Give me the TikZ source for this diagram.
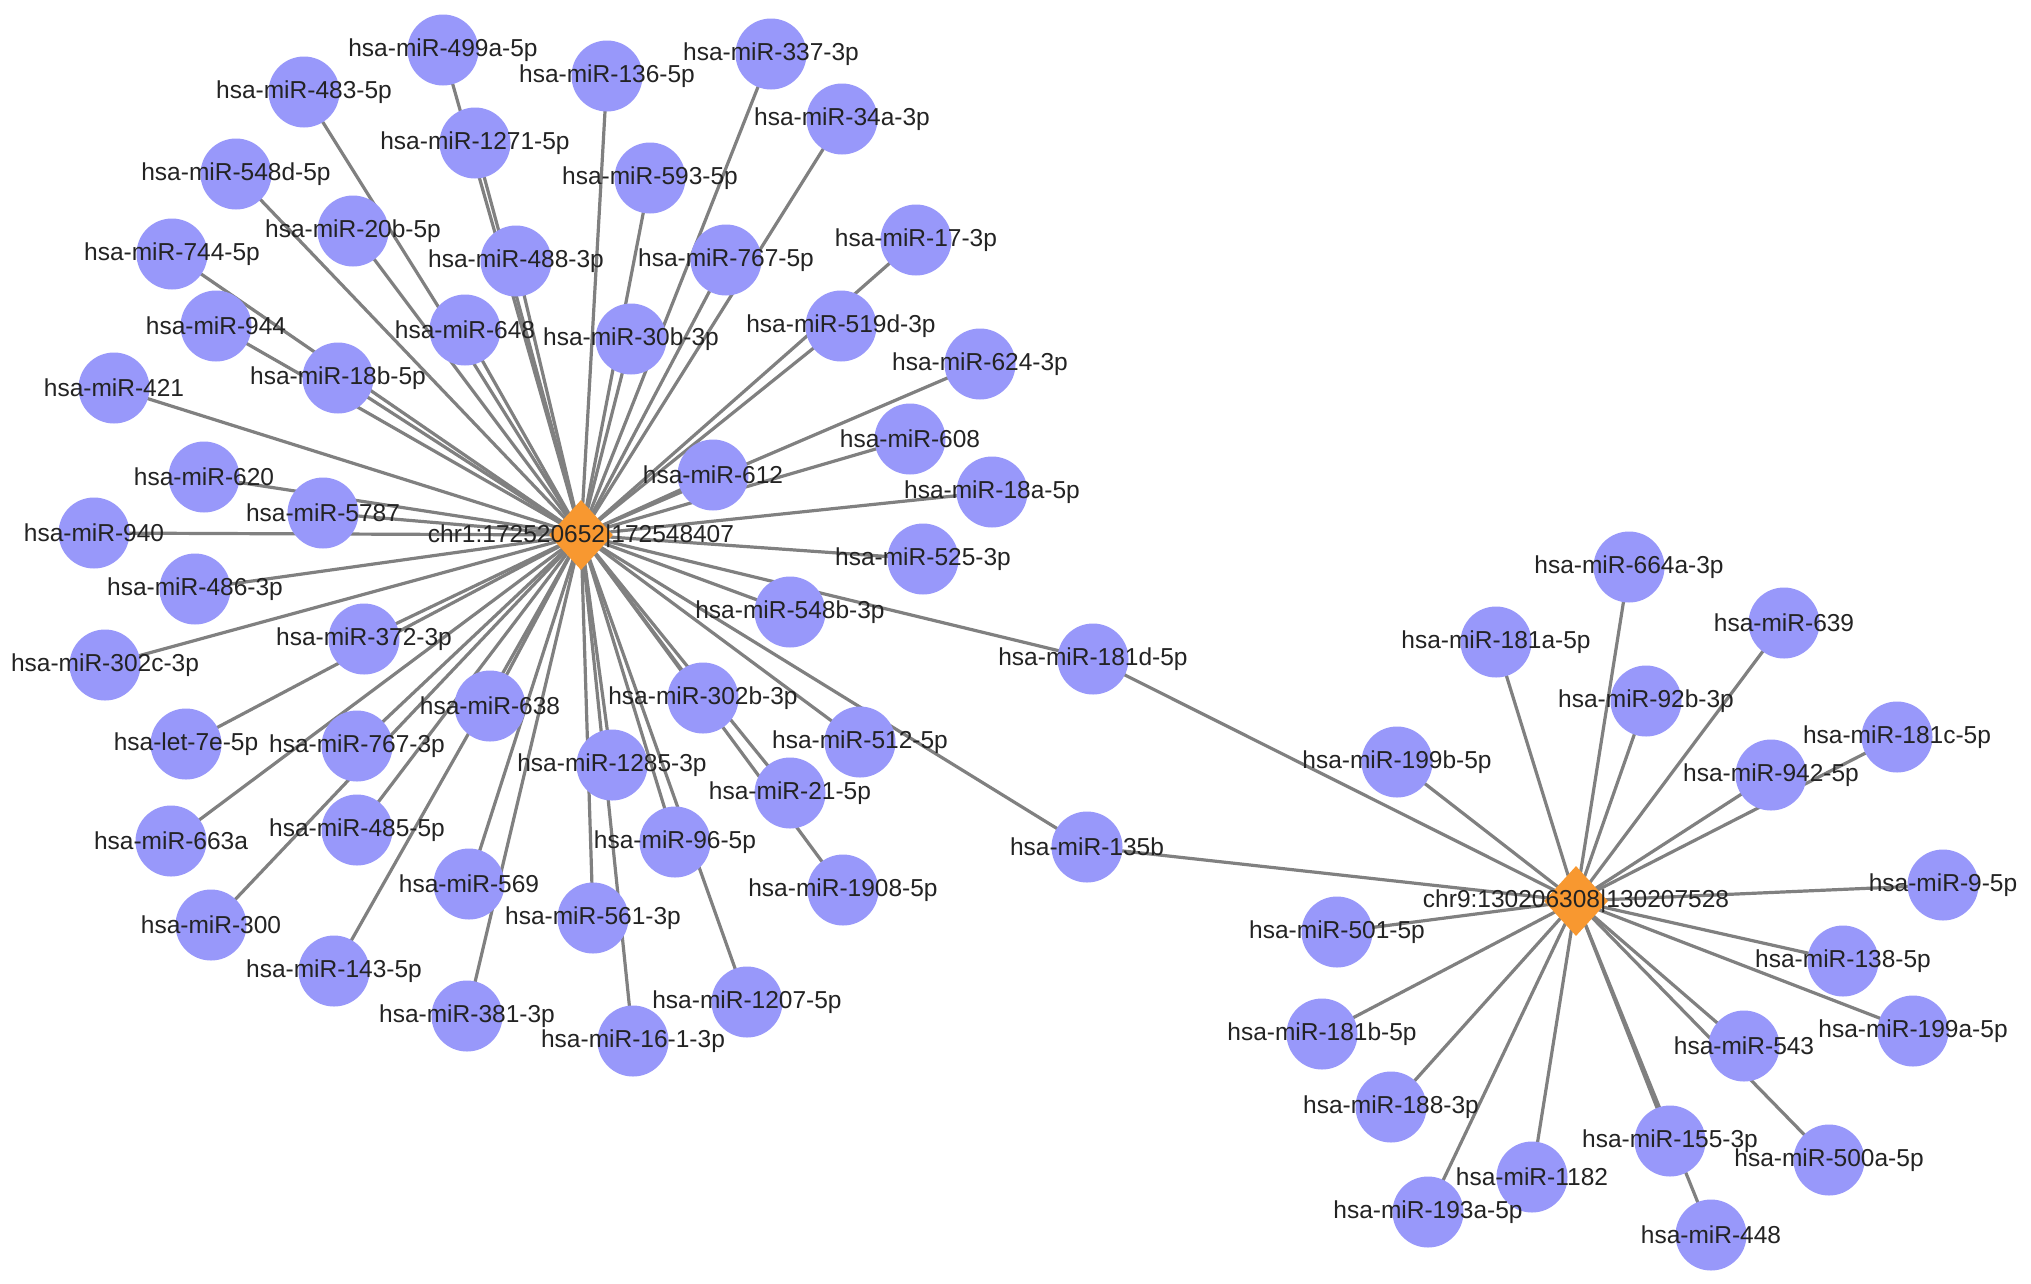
\documentclass[tikz,border=0pt]{standalone}
\usepackage{fontspec}
\setmainfont{Liberation Sans}
\usetikzlibrary{shapes.geometric}
\pgfdeclarelayer{bglayer}
\pgfdeclarelayer{edgelayer}
\pgfdeclarelayer{textlayer}
\pgfsetlayers{bglayer,edgelayer,main,textlayer}
\definecolor{mirfill}{RGB}{152,152,250}
\definecolor{hubfill}{RGB}{248,152,48}
\definecolor{edgecol}{RGB}{128,128,128}
\definecolor{txtcol}{RGB}{35,35,35}
\tikzset{
  mir/.style={circle, fill=mirfill, draw=none, minimum size=71pt, inner sep=0pt},
  hub/.style={diamond, fill=hubfill, draw=none, minimum width=64pt, minimum height=70pt, inner sep=0pt},
  lbl/.style={text=txtcol, inner sep=0pt, font=\fontsize{24.5}{29}\selectfont},
  linkline/.style={draw=edgecol, line width=3.2pt}
}
\def\leftlist{a499/443/50/hsa-miR-499a-5p,
a483/304/92/hsa-miR-483-5p,
a136/607/76/hsa-miR-136-5p,
a337/771/54/hsa-miR-337-3p,
a34a/842/119/hsa-miR-34a-3p,
a1271/475/143/hsa-miR-1271-5p,
a548d/236/174/hsa-miR-548d-5p,
a593/650/178/hsa-miR-593-5p,
a20b/353/231/hsa-miR-20b-5p,
a744/172/254/hsa-miR-744-5p,
a488/516/261/hsa-miR-488-3p,
a767f/726/260/hsa-miR-767-5p,
a17/916/240/hsa-miR-17-3p,
a944/216/326/hsa-miR-944,
a648/465/330/hsa-miR-648,
a30b/631/339/hsa-miR-30b-3p,
a519d/841/326/hsa-miR-519d-3p,
a624/980/364/hsa-miR-624-3p,
a421/114/388/hsa-miR-421,
a18b/338/378/hsa-miR-18b-5p,
a608/910/439/hsa-miR-608,
a612/713/475/hsa-miR-612,
a620/204/477/hsa-miR-620,
a18a/992/492/hsa-miR-18a-5p,
a5787/323/513/hsa-miR-5787,
a940/94/533/hsa-miR-940,
a525/923/559/hsa-miR-525-3p,
a486/195/589/hsa-miR-486-3p,
a548b/790/612/hsa-miR-548b-3p,
a302c/105/665/hsa-miR-302c-3p,
a372/364/639/hsa-miR-372-3p,
a638/490/706/hsa-miR-638,
a302b/703/698/hsa-miR-302b-3p,
a512/860/742/hsa-miR-512-5p,
alet/186/744/hsa-let-7e-5p,
a767t/357/746/hsa-miR-767-3p,
a1285/612/765/hsa-miR-1285-3p,
a21/790/793/hsa-miR-21-5p,
a663/171/841/hsa-miR-663a,
a485/357/830/hsa-miR-485-5p,
a96/675/842/hsa-miR-96-5p,
a569/469/884/hsa-miR-569,
a1908/843/890/hsa-miR-1908-5p,
a300/211/925/hsa-miR-300,
a561/593/918/hsa-miR-561-3p,
a143/334/971/hsa-miR-143-5p,
a1207/747/1002/hsa-miR-1207-5p,
a381/467/1016/hsa-miR-381-3p,
a16/633/1041/hsa-miR-16-1-3p}
\def\sharedlist{s181d/1093/659/hsa-miR-181d-5p,
s135b/1087/847/hsa-miR-135b}
\def\rightlist{b664/1629/567/hsa-miR-664a-3p,
b181a/1496/642/hsa-miR-181a-5p,
b639/1784/623/hsa-miR-639,
b92b/1646/701/hsa-miR-92b-3p,
b181c/1897/737/hsa-miR-181c-5p,
b942/1771/775/hsa-miR-942-5p,
b199b/1397/762/hsa-miR-199b-5p,
b9/1943/885/hsa-miR-9-5p,
b501/1337/932/hsa-miR-501-5p,
b138/1843/961/hsa-miR-138-5p,
b181b/1322/1034/hsa-miR-181b-5p,
b199a/1913/1031/hsa-miR-199a-5p,
b543/1744/1046/hsa-miR-543,
b188/1391/1107/hsa-miR-188-3p,
b155/1670/1141/hsa-miR-155-3p,
b500a/1829/1160/hsa-miR-500a-5p,
b1182/1532/1177/hsa-miR-1182,
b193a/1428/1212/hsa-miR-193a-5p,
b448/1711/1235/hsa-miR-448}
\begin{document}
\begin{tikzpicture}[x=1pt, y=-1pt]
\begin{pgfonlayer}{bglayer}
\fill[white] (0,0) rectangle (2031,1283);
\end{pgfonlayer}
\useasboundingbox (0,0) rectangle (2031,1283);
% hubs
\node[hub] (hub1) at (581,535) {};
\node[hub] (hub2) at (1576,901) {};
\begin{pgfonlayer}{textlayer}
\node[lbl] (hub1lbl) at (581,536) {chr1:172520652|172548407};
\node[lbl] (hub2lbl) at (1576,901) {chr9:130206308|130207528};
\end{pgfonlayer}
% left cluster
\foreach \n/\x/\y/\t in \leftlist {
  \node[mir] (\n) at (\x,\y) {};
  \begin{pgfonlayer}{edgelayer}
    \draw[linkline] (hub1.center) -- (\n.center);
  \end{pgfonlayer}
  \begin{pgfonlayer}{textlayer}
    \node[lbl] (\n lbl) at (\x,\y) {\t};
  \end{pgfonlayer}
}
% shared
\foreach \n/\x/\y/\t in \sharedlist {
  \node[mir] (\n) at (\x,\y) {};
  \begin{pgfonlayer}{edgelayer}
    \draw[linkline] (hub1.center) -- (\n.center);
    \draw[linkline] (hub2.center) -- (\n.center);
  \end{pgfonlayer}
  \begin{pgfonlayer}{textlayer}
    \node[lbl] (\n lbl) at (\x,\y) {\t};
  \end{pgfonlayer}
}
% right cluster
\foreach \n/\x/\y/\t in \rightlist {
  \node[mir] (\n) at (\x,\y) {};
  \begin{pgfonlayer}{edgelayer}
    \draw[linkline] (hub2.center) -- (\n.center);
  \end{pgfonlayer}
  \begin{pgfonlayer}{textlayer}
    \node[lbl] (\n lbl) at (\x,\y) {\t};
  \end{pgfonlayer}
}
\end{tikzpicture}
\end{document}
